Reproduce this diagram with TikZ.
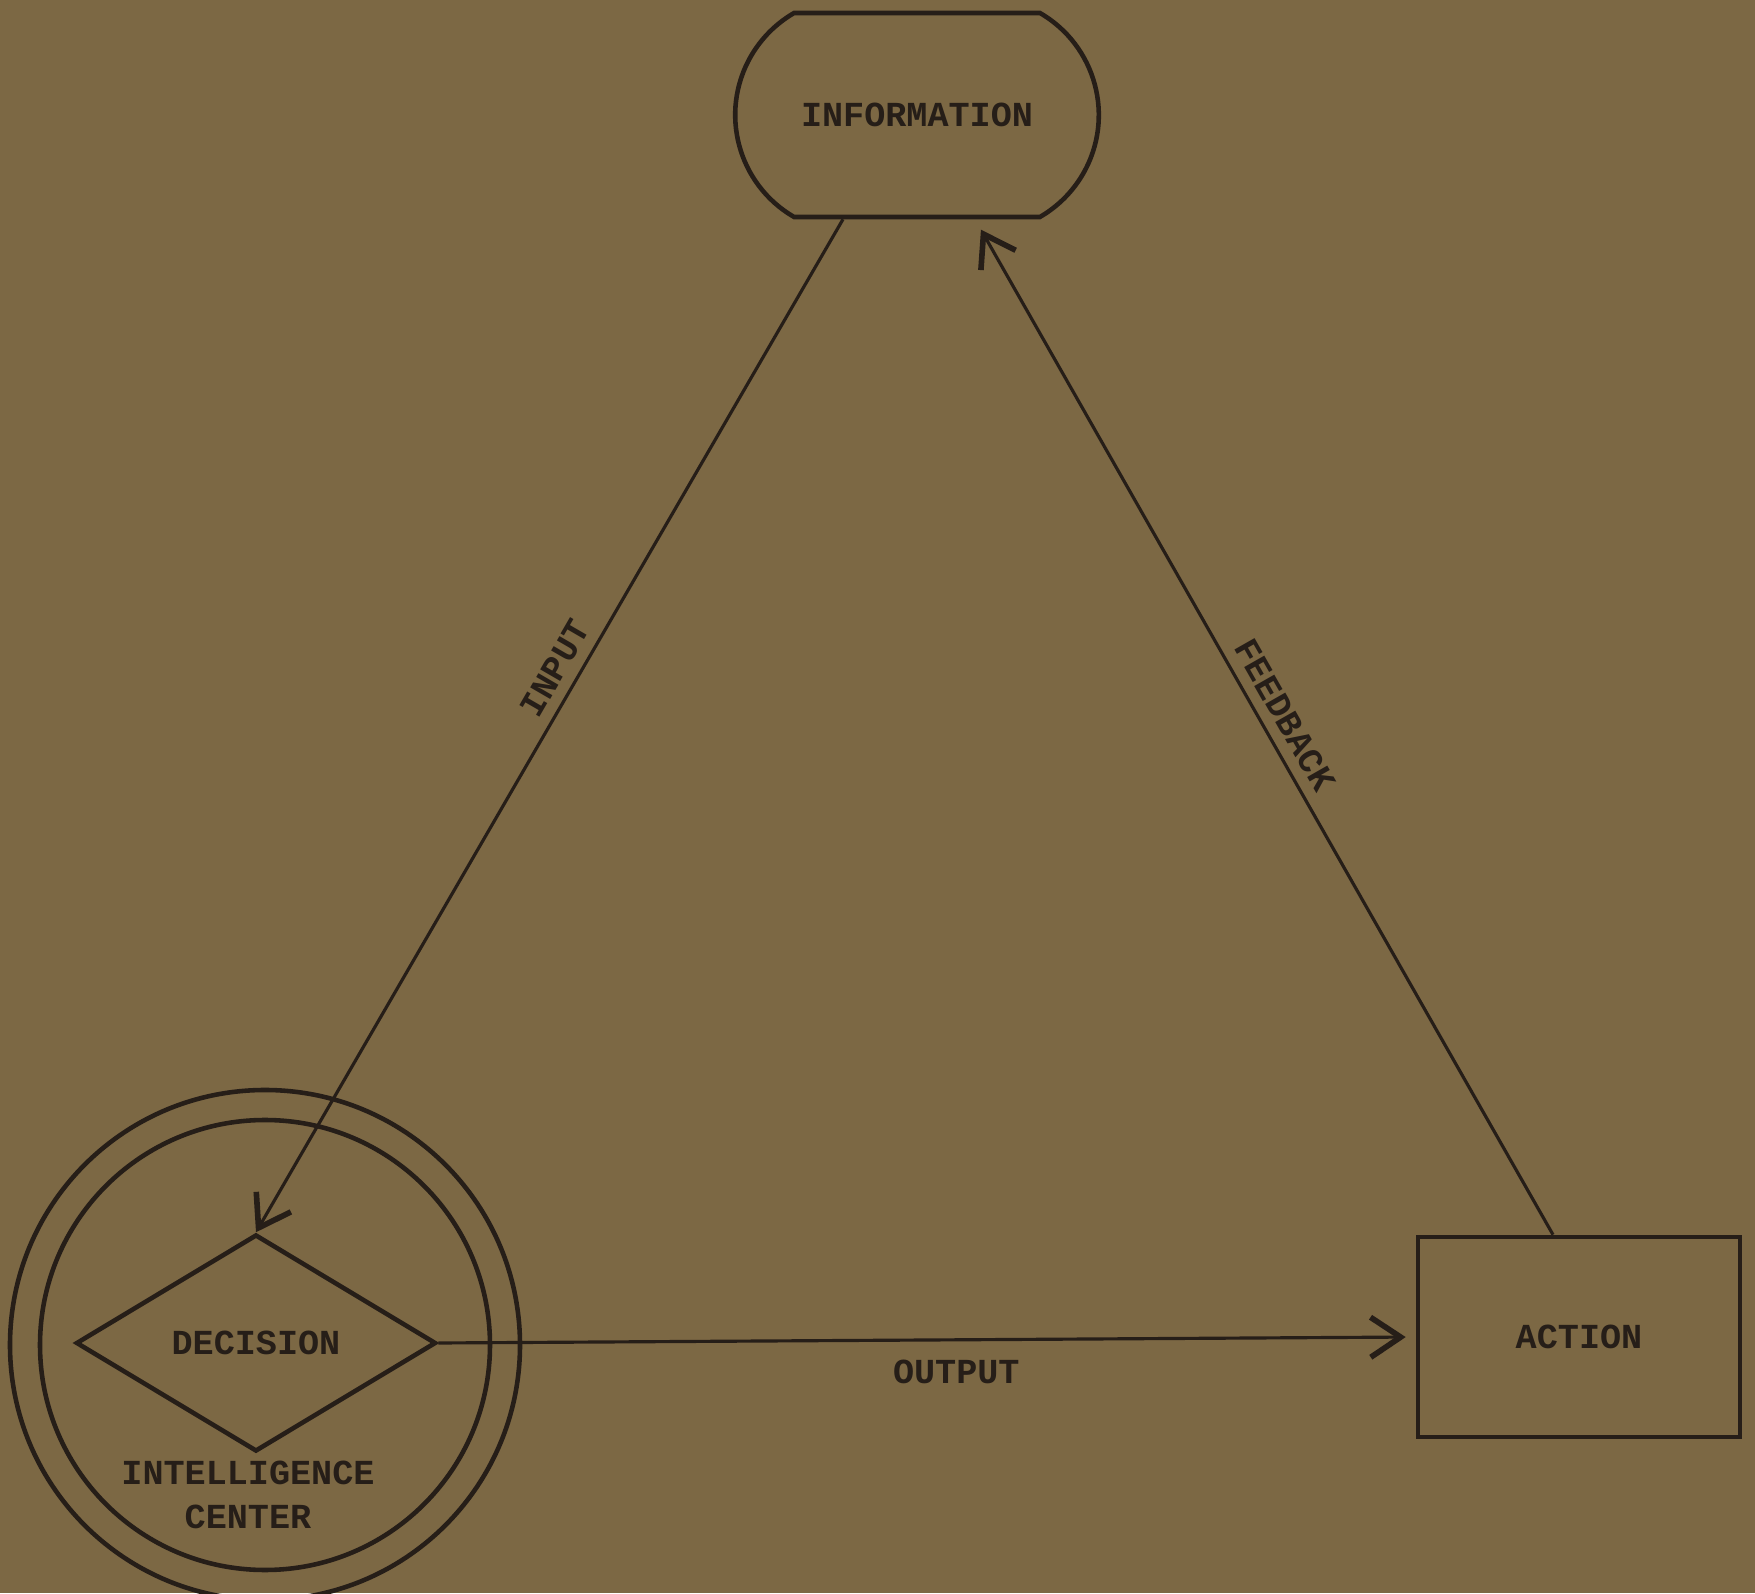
\documentclass[tikz,border=0pt]{standalone}
\usepackage{fontspec}
\newfontfamily\typewr{Liberation Mono}
\usetikzlibrary{arrows.meta, shapes.geometric, shapes.misc}
\definecolor{paper}{RGB}{124,104,68}
\definecolor{ink}{RGB}{38,30,24}

\begin{document}
\begin{tikzpicture}[
    every node/.style={font=\typewr\bfseries\fontsize{10}{12.5}\selectfont, text=ink},
    box/.style={draw=ink, line width=1.3pt},
    arr/.style={-{Straight Barb[length=3mm, width=4mm, line width=1.6pt]}, draw=ink, line width=0.9pt},
    lbl/.style={inner sep=3pt}
]

% ---- Sheet ----
\fill[paper] (0,0) rectangle (17.55,15.93);
\useasboundingbox (0,0) rectangle (17.55,15.93);

% ---- Information (top) ----
\node[box, rounded rectangle, rounded rectangle arc length=120,
      minimum width=3.87cm, minimum height=2.04cm] (info) at (9.17,14.78) {INFORMATION};

% ---- Intelligence center (left) ----
\node[box, circle, minimum size=5.1cm] (outer) at (2.65,2.48) {};
\node[box, circle, minimum size=4.5cm] (inner) at (2.65,2.48) {};
\node[box, diamond, aspect=1.66, minimum width=3.6cm, minimum height=2.17cm] (dec) at (2.56,2.50) {DECISION};
\node[align=center] (ic) at (2.48,0.98) {INTELLIGENCE\\CENTER};

% ---- Action (right) ----
\node[box, rectangle, minimum width=3.22cm, minimum height=2.0cm] (act) at (15.79,2.56) {ACTION};

% ---- Connectors ----
\draw[arr] ([xshift=-0.74cm]info.south) -- node[lbl, pos=0.455, sloped, above]{INPUT} (dec.north);
\draw[arr, shorten >=0.1cm] (dec.east) -- node[lbl, pos=0.53, below=0.08cm]{OUTPUT} (act.west);
\draw[arr, shorten >=0.12cm] ([xshift=-0.26cm]act.north)
    -- node[lbl, pos=0.50, sloped, above]{FEEDBACK} ([xshift=0.58cm]info.south);

\end{tikzpicture}
\end{document}
